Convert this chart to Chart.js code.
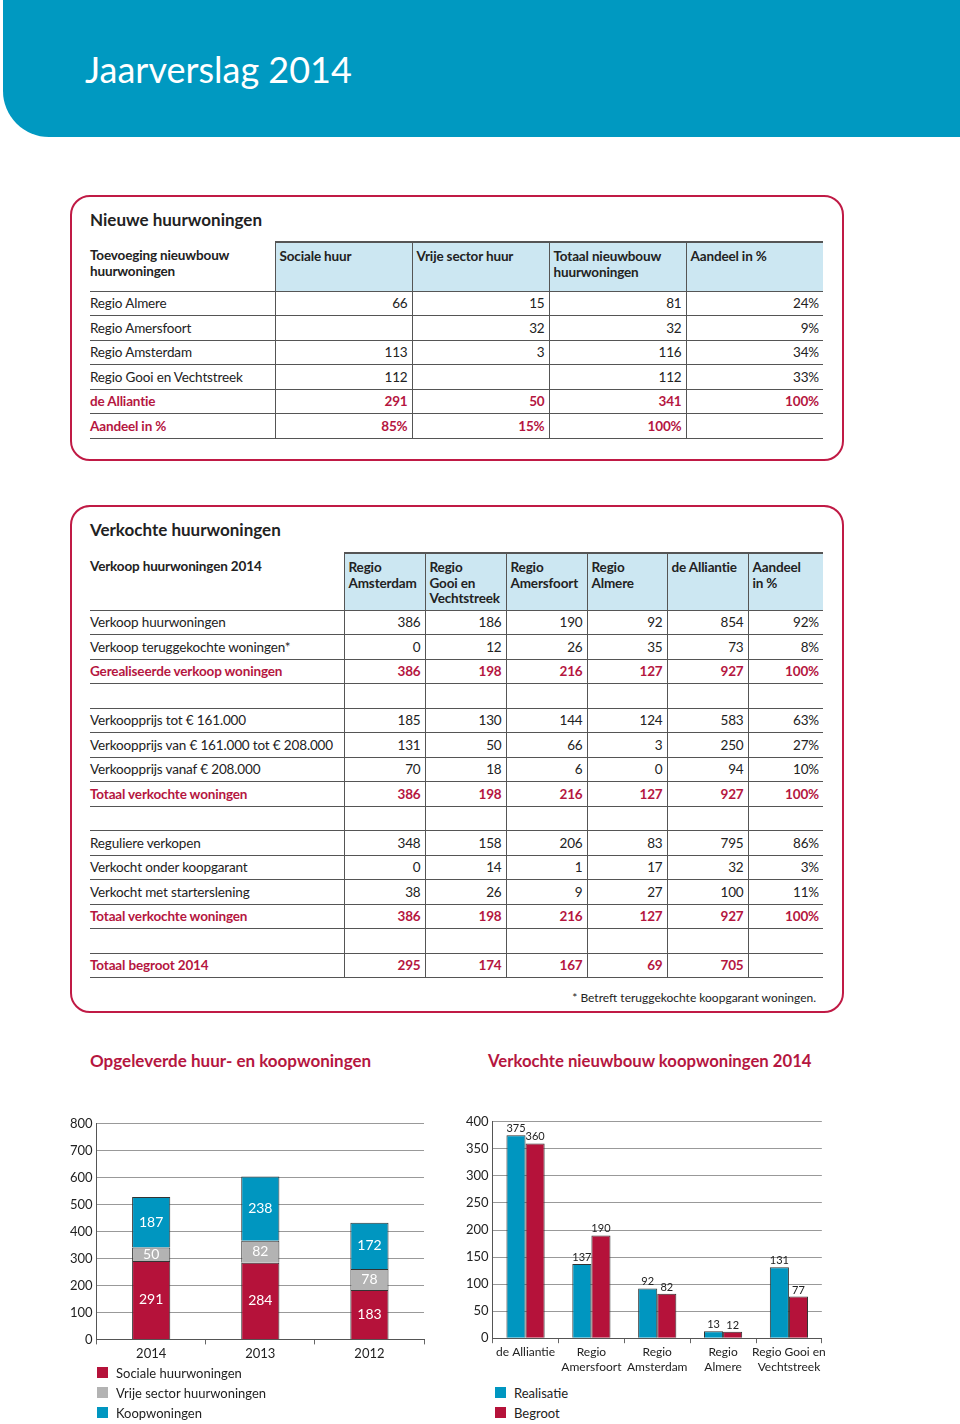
<!DOCTYPE html>
<html lang="nl">
<head>
<meta charset="UTF-8">
<title>Jaarverslag 2014</title>
<script src="https://cdn.jsdelivr.net/npm/chart.js"></script>
<style>
  body { margin: 0; width: 960px; height: 1424px; position: relative; background: #fff; font-family: Lato, "Open Sans", sans-serif; color: #222; overflow: hidden; }
  .band { position: absolute; left: 3px; top: 0; width: 957px; height: 137px; background: #0099c1; border-bottom-left-radius: 46px; }
  .band h1 { position: absolute; left: 82px; top: 47px; margin: 0; font-weight: 400; font-size: 36px; color: #fff; }
  .box { position: absolute; left: 70px; width: 770px; border: 2px solid #c01a45; border-radius: 20px; }
  .box h2 { position: absolute; left: 18px; margin: 0; font-size: 17px; font-weight: 700; }
  table { position: absolute; left: 18px; border-collapse: collapse; font-size: 13.5px; letter-spacing: -0.15px; table-layout: fixed; }
  td, th { padding: 0 4px; height: 23.5px; border-bottom: 1px solid #555; white-space: nowrap; }
  td:first-child, th:first-child { padding-left: 0; }
  th { text-align: left; vertical-align: top; font-weight: 700; line-height: 15.5px; padding-top: 6px; }
  th.h { background: #cce7f2; border-top: 2px solid #555; }
  td + td, th + th { border-left: 1px solid #555; text-align: right; }
  th + th { text-align: left; }
  tr.red td { color: #b5163f; font-weight: 700; }
  .note { position: absolute; right: 26px; font-size: 12px; }
  .ctitle { position: absolute; top: 1050px; margin: 0; font-size: 17px; font-weight: 700; color: #b5163f; }
  .chart { position: absolute; }
  .legend { position: absolute; font-size: 13px; }
  .legend div { height: 20px; line-height: 20px; position: relative; padding-left: 19px; }
  .legend span { position: absolute; left: 0; top: 4px; width: 11px; height: 11px; }
</style>
</head>
<body>
<div class="band"><h1>Jaarverslag 2014</h1></div>

<div class="box" style="top:195px;height:262px;">
  <h2 style="top:12px;">Nieuwe huurwoningen</h2>
  <table style="top:44px;width:733px;">
    <colgroup><col style="width:185px"><col style="width:137px"><col style="width:137px"><col style="width:137px"><col style="width:137px"></colgroup>
    <tr style="height:49px"><th>Toevoeging nieuwbouw<br>huurwoningen</th><th class="h">Sociale huur</th><th class="h">Vrije sector huur</th><th class="h">Totaal nieuwbouw<br>huurwoningen</th><th class="h">Aandeel in %</th></tr>
    <tr><td>Regio Almere</td><td>66</td><td>15</td><td>81</td><td>24%</td></tr>
    <tr><td>Regio Amersfoort</td><td></td><td>32</td><td>32</td><td>9%</td></tr>
    <tr><td>Regio Amsterdam</td><td>113</td><td>3</td><td>116</td><td>34%</td></tr>
    <tr><td>Regio Gooi en Vechtstreek</td><td>112</td><td></td><td>112</td><td>33%</td></tr>
    <tr class="red"><td>de Alliantie</td><td>291</td><td>50</td><td>341</td><td>100%</td></tr>
    <tr class="red"><td>Aandeel in %</td><td>85%</td><td>15%</td><td>100%</td><td></td></tr>
  </table>
</div>

<div class="box" style="top:505px;height:504px;">
  <h2 style="top:12px;">Verkochte huurwoningen</h2>
  <table style="top:45px;width:733px;">
    <colgroup><col style="width:254px"><col style="width:81px"><col style="width:81px"><col style="width:81px"><col style="width:80px"><col style="width:81px"><col style="width:75px"></colgroup>
    <tr style="height:57px"><th>Verkoop huurwoningen 2014</th><th class="h">Regio<br>Amsterdam</th><th class="h">Regio<br>Gooi en<br>Vechtstreek</th><th class="h">Regio<br>Amersfoort</th><th class="h">Regio<br>Almere</th><th class="h">de Alliantie</th><th class="h">Aandeel<br>in %</th></tr>
    <tr><td>Verkoop huurwoningen</td><td>386</td><td>186</td><td>190</td><td>92</td><td>854</td><td>92%</td></tr>
    <tr><td>Verkoop teruggekochte woningen*</td><td>0</td><td>12</td><td>26</td><td>35</td><td>73</td><td>8%</td></tr>
    <tr class="red"><td>Gerealiseerde verkoop woningen</td><td>386</td><td>198</td><td>216</td><td>127</td><td>927</td><td>100%</td></tr>
    <tr><td></td><td></td><td></td><td></td><td></td><td></td><td></td></tr>
    <tr><td>Verkoopprijs tot € 161.000</td><td>185</td><td>130</td><td>144</td><td>124</td><td>583</td><td>63%</td></tr>
    <tr><td>Verkoopprijs van € 161.000 tot € 208.000</td><td>131</td><td>50</td><td>66</td><td>3</td><td>250</td><td>27%</td></tr>
    <tr><td>Verkoopprijs vanaf € 208.000</td><td>70</td><td>18</td><td>6</td><td>0</td><td>94</td><td>10%</td></tr>
    <tr class="red"><td>Totaal verkochte woningen</td><td>386</td><td>198</td><td>216</td><td>127</td><td>927</td><td>100%</td></tr>
    <tr><td></td><td></td><td></td><td></td><td></td><td></td><td></td></tr>
    <tr><td>Reguliere verkopen</td><td>348</td><td>158</td><td>206</td><td>83</td><td>795</td><td>86%</td></tr>
    <tr><td>Verkocht onder koopgarant</td><td>0</td><td>14</td><td>1</td><td>17</td><td>32</td><td>3%</td></tr>
    <tr><td>Verkocht met starterslening</td><td>38</td><td>26</td><td>9</td><td>27</td><td>100</td><td>11%</td></tr>
    <tr class="red"><td>Totaal verkochte woningen</td><td>386</td><td>198</td><td>216</td><td>127</td><td>927</td><td>100%</td></tr>
    <tr><td></td><td></td><td></td><td></td><td></td><td></td><td></td></tr>
    <tr class="red"><td>Totaal begroot 2014</td><td>295</td><td>174</td><td>167</td><td>69</td><td>705</td><td></td></tr>
  </table>
  <div class="note" style="top:483px;">* Betreft teruggekochte koopgarant woningen.</div>
</div>

<h3 class="ctitle" style="left:90px;">Opgeleverde huur- en koopwoningen</h3>
<h3 class="ctitle" style="left:488px;top:1051px;font-size:16.7px;">Verkochte nieuwbouw koopwoningen 2014</h3>

<div class="chart" style="left:66px;top:1112px;width:362px;height:252px;"><canvas id="leftChart"></canvas></div>
<div class="chart" style="left:462px;top:1110px;width:366px;height:266px;"><canvas id="rightChart"></canvas></div>

<div class="legend" style="left:97px;top:1363px;">
  <div><span style="background:#b5123a"></span>Sociale huurwoningen</div>
  <div><span style="background:#b3b3b3"></span>Vrije sector huurwoningen</div>
  <div><span style="background:#0096c0"></span>Koopwoningen</div>
</div>
<div class="legend" style="left:495px;top:1383px;">
  <div><span style="background:#0096c0"></span>Realisatie</div>
  <div><span style="background:#b5123a"></span>Begroot</div>
</div>

<script>
// opgeleverde woningen per jaar
const years = ["2014", "2013", "2012"];
const sociale = [291, 284, 183];
const vrije = [50, 82, 78];
const koop = [187, 238, 172];
const leftTicks = [0, 100, 200, 300, 400, 500, 600, 700, 800];

// verkochte nieuwbouw koopwoningen 2014
const regions = ["de Alliantie", ["Regio", "Amersfoort"], ["Regio", "Amsterdam"], ["Regio", "Almere"], ["Regio Gooi en", "Vechtstreek"]];
const realisatie = [375, 137, 92, 13, 131];
const begroot = [360, 190, 82, 12, 77];
const rightTicks = [0, 50, 100, 150, 200, 250, 300, 350, 400];

const RED = "#b5123a", BLUE = "#0096c0", GRAY = "#b3b3b3";
const FONT = "Lato, 'Open Sans', sans-serif";

// tekst bij de staven
const barLabels = {
  id: "barLabels",
  afterDatasetsDraw(chart, args, opts) {
    const ctx = chart.ctx;
    ctx.save();
    ctx.font = opts.size + "px " + FONT;
    ctx.textAlign = "center";
    chart.data.datasets.forEach((ds, i) => {
      chart.getDatasetMeta(i).data.forEach((bar, j) => {
        const v = ds.data[j];
        if (opts.inside) {
          ctx.fillStyle = "#fff";
          ctx.textBaseline = "middle";
          ctx.fillText(v, bar.x, (bar.y + bar.base) / 2);
        } else {
          ctx.fillStyle = "#222";
          ctx.textBaseline = "bottom";
          ctx.fillText(v, bar.x, bar.y - 1);
        }
      });
    });
    ctx.restore();
  }
};

function scales(ticks, max, xSize) {
  return {
    x: {
      grid: { display: true, offset: true, drawOnChartArea: false, drawTicks: true, tickLength: 5, color: "#666" },
      border: { color: "#555" },
      ticks: { color: "#222", font: { family: FONT, size: xSize }, padding: 2, maxRotation: 0, autoSkip: false }
    },
    y: {
      min: 0, max: max,
      afterBuildTicks: (axis) => { axis.ticks = ticks.map(v => ({ value: v })); },
      grid: { color: "#999", drawTicks: false },
      border: { color: "#555" },
      ticks: { color: "#222", font: { family: FONT, size: 13 }, padding: 4 }
    }
  };
}

const leftScales = scales(leftTicks, 800, 13);
leftScales.x.stacked = true;
leftScales.y.stacked = true;

new Chart(document.getElementById("leftChart"), {
  type: "bar",
  data: {
    labels: years,
    datasets: [
      { label: "Sociale huurwoningen", data: sociale, backgroundColor: RED },
      { label: "Vrije sector huurwoningen", data: vrije, backgroundColor: GRAY },
      { label: "Koopwoningen", data: koop, backgroundColor: BLUE }
    ].map(d => Object.assign(d, { borderColor: "#333", borderWidth: 1, categoryPercentage: 0.35, barPercentage: 1 }))
  },
  options: {
    responsive: true, maintainAspectRatio: false, animation: false,
    layout: { padding: { top: 0, right: 4 } },
    plugins: { legend: { display: false }, tooltip: { enabled: false }, barLabels: { inside: true, size: 14 } },
    scales: leftScales
  },
  plugins: [barLabels]
});

new Chart(document.getElementById("rightChart"), {
  type: "bar",
  data: {
    labels: regions,
    datasets: [
      { label: "Realisatie", data: realisatie, backgroundColor: BLUE },
      { label: "Begroot", data: begroot, backgroundColor: RED }
    ].map(d => Object.assign(d, { borderColor: "#333", borderWidth: 1, categoryPercentage: 0.58, barPercentage: 1 }))
  },
  options: {
    responsive: true, maintainAspectRatio: false, animation: false,
    layout: { padding: { top: 0, right: 2 } },
    plugins: { legend: { display: false }, tooltip: { enabled: false }, barLabels: { inside: false, size: 11 } },
    scales: scales(rightTicks, 400, 12)
  },
  plugins: [barLabels]
});
</script>
</body>
</html>
